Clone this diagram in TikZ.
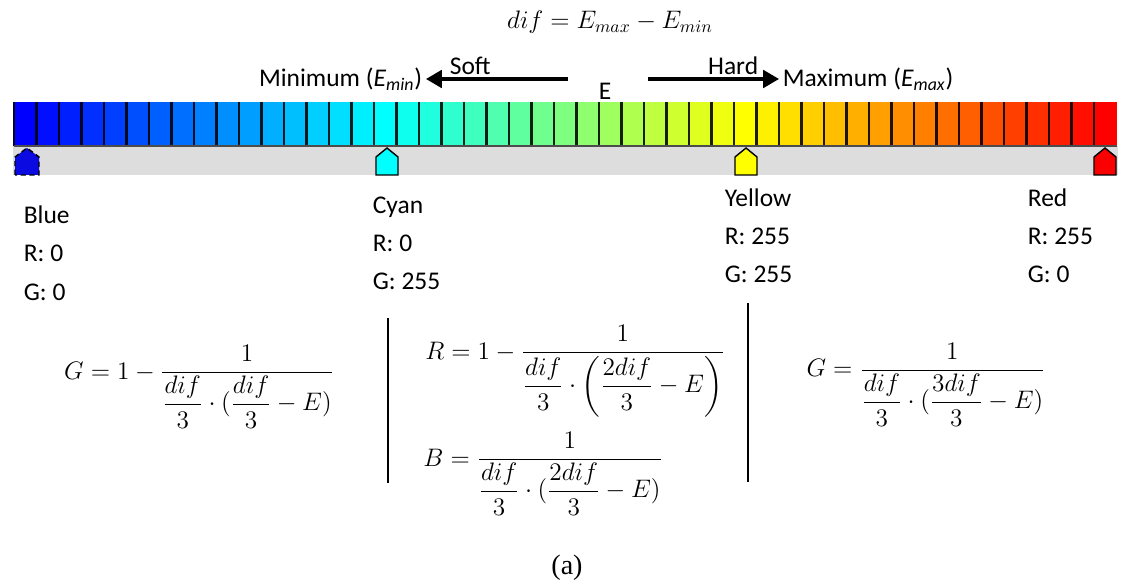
\documentclass[tikz,border=0pt]{standalone}
\usepackage{amsmath}
\usepackage{fontspec}
\setmainfont{Carlito}
\newfontfamily\capfont{Liberation Serif}
\usetikzlibrary{arrows.meta}
\definecolor{stripgray}{RGB}{221,221,221}
\definecolor{mkblue}{RGB}{10,10,225}
\definecolor{mkcyan}{RGB}{0,255,255}
\definecolor{mkyellow}{RGB}{255,255,0}
\definecolor{mkred}{RGB}{250,0,0}

\begin{document}
\begin{tikzpicture}[x=0.02cm,y=-0.02cm,
  lab/.style={font=\fontsize{14.5}{17}\selectfont,inner sep=2pt},
  eq/.style={font=\fontsize{14.4}{17}\selectfont,inner sep=0pt},
  arr/.style={-{Triangle[length=9pt,width=10pt]},line width=1.8pt},
  divider/.style={line width=1.2pt}]
\useasboundingbox (0,0) rectangle (1126,584);
% energy range
\node[eq,anchor=base] (dif) at (610,29) {$dif=E_{max}-E_{min}$};
\node[lab] (enode) at (605,91) {E};
\node[lab,anchor=east] (minlab) at (426,79) {Minimum (\textit{E}\textsubscript{\textit{min}})};
\node[lab,anchor=west] (maxlab) at (779,79) {Maximum (\textit{E}\textsubscript{\textit{max}})};
\coordinate (softtail) at (568,79);
\coordinate (hardtail) at (648,79);
\draw[arr] (softtail) -- (minlab.east);
\draw[arr] (hardtail) -- (maxlab.west);
\node[lab,anchor=south west] (soft) at (446,79) {Soft};
\node[lab,anchor=south east] (hard) at (762,79) {Hard};
% colour bar
\fill[stripgray] (13,146) rectangle (1118,175);
\foreach \i in {0,...,48}{
  \pgfmathtruncatemacro{\rr}{\i<16 ? 0 : (\i<32 ? 255*(\i-16)/16 : 255)}
  \pgfmathtruncatemacro{\gg}{\i<16 ? 255*\i/16 : (\i<32 ? 255 : 255*(48-\i)/16)}
  \pgfmathtruncatemacro{\bb}{\i<16 ? 255 : (\i<32 ? 255*(32-\i)/16 : 0)}
  \definecolor{cellc}{RGB}{\rr,\gg,\bb}
  \fill[cellc] ({14+22.5*\i},102) rectangle ++(22.5,44);
  \draw[cellc!12!black,line width=1.2pt] ({14+22.5*\i},102) -- ++(0,44);
}
\draw[black!70,line width=0.6pt] (14,146) -- (1116.5,146);
\foreach \x/\c in {387/mkcyan,746/mkyellow,1105/mkred}
  \filldraw[fill=\c,draw=black,line width=0.8pt] (\x-11,175) -- (\x-11,157) -- (\x,148) -- (\x+11,157) -- (\x+11,175) -- cycle;
\filldraw[fill=mkblue,draw=black,densely dashed,line width=0.8pt] (27-12,175) -- (27-12,157) -- (27,148) -- (27+12,157) -- (27+12,175) -- cycle;
% key colours
\foreach \x/\y/\nm/\rv/\gv in {20/224/Blue/0/0,369/214/Cyan/0/255,721/207/Yellow/255/255,1024/207/Red/255/0}{
  \node[lab,anchor=base west] (\nm) at (\x,\y) {\nm};
  \node[lab,anchor=base west] (\nm R) at (\x,\y+38) {R: \rv};
  \node[lab,anchor=base west] (\nm G) at (\x,\y+76) {G: \gv};
}
\draw[divider] (388,318) -- (388,483);
\draw[divider] (748,303) -- (748,482);
% formulas
\node[eq,anchor=base] (gblue) at (199,379)
  {$\displaystyle G=1-\frac{1}{\dfrac{dif}{3}\cdot(\dfrac{dif}{3}-E)}$};
\node[eq,anchor=base] (rcyan) at (575,359)
  {$\displaystyle R=1-\frac{1}{\dfrac{dif}{3}\cdot\left(\dfrac{2dif}{3}-E\right)}$};
\node[eq,anchor=base] (bcyan) at (543,466)
  {$\displaystyle B=\frac{1}{\dfrac{dif}{3}\cdot(\dfrac{2dif}{3}-E)}$};
\node[eq,anchor=base] (gyel) at (926,377)
  {$\displaystyle G=\frac{1}{\dfrac{dif}{3}\cdot(\dfrac{3dif}{3}-E)}$};
\node[font=\capfont\fontsize{16}{18}\selectfont] (cap) at (567,568) {(a)};
\end{tikzpicture}
\end{document}
